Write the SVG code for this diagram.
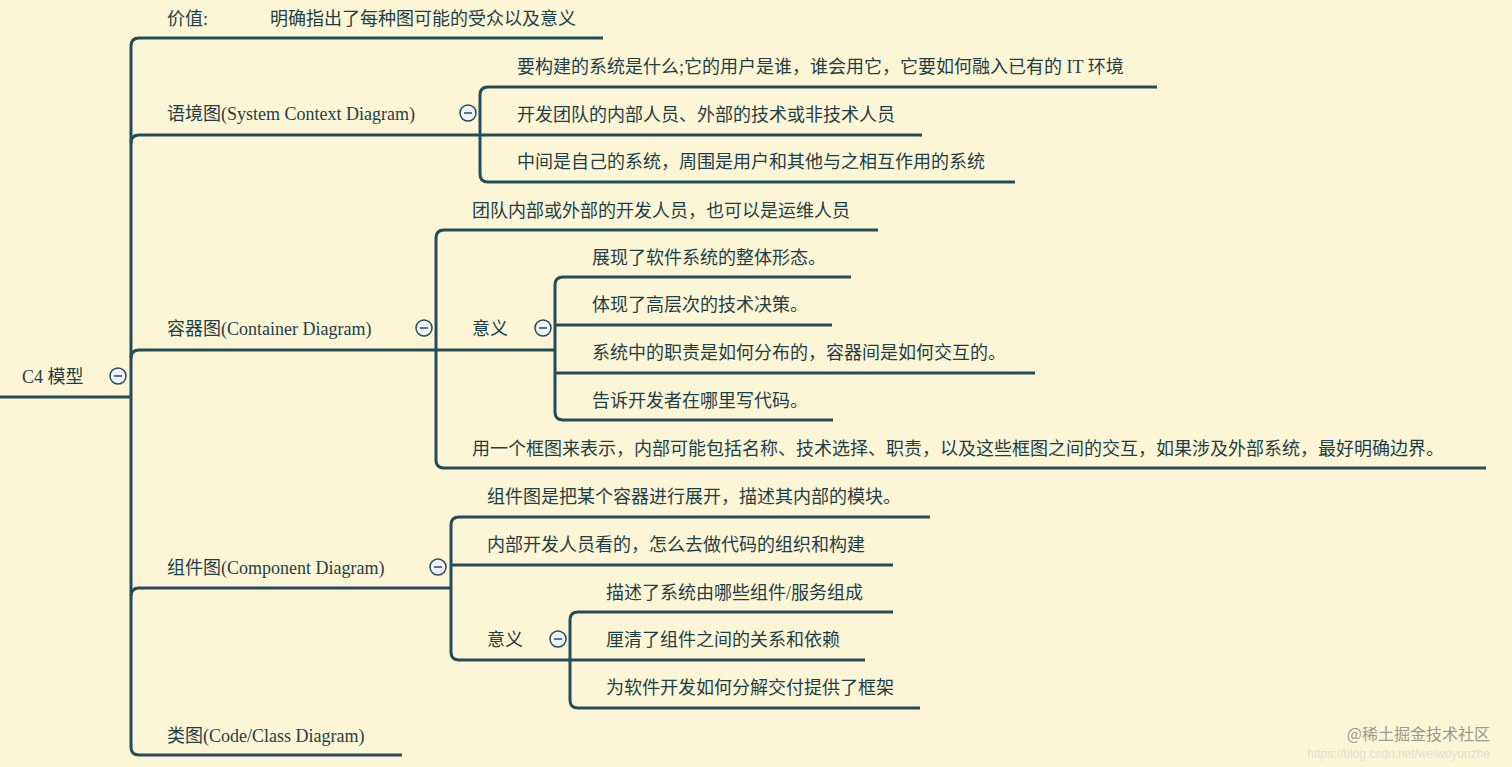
<svg xmlns="http://www.w3.org/2000/svg" width="1512" height="767" viewBox="0 0 1512 767">
<style>
.l{fill:none;stroke:#234e59;stroke-width:3;stroke-linejoin:round}
text{font-family:"Liberation Serif","Noto Sans CJK SC",serif;font-size:18px;fill:#1f3f47;dominant-baseline:central}
.c circle{fill:#eef2f6;stroke:#234e59;stroke-width:1.5}
.c line{stroke:#234e59;stroke-width:1.5}
</style>
<rect width="1512" height="767" fill="#fcf5d6"/>
<g id="connectors" class="l">
<path d="M0 397H131"/>
<path d="M603 38H139Q131 38 131 46V747Q131 755 139 755H402"/>
<path d="M131 143Q131 135 139 135H480"/>
<path d="M131 358Q131 350 139 350H436"/>
<path d="M131 596Q131 588 139 588H451"/>
<path d="M1157 87H488Q480 87 480 95V174Q480 182 488 182H1015"/>
<path d="M480 135H922"/>
<path d="M878 230H444Q436 230 436 238V460Q436 468 444 468H1486"/>
<path d="M436 350H555"/>
<path d="M851 277H563Q555 277 555 285V412Q555 420 563 420H833"/>
<path d="M555 325H832"/>
<path d="M555 373H1035"/>
<path d="M930 517H459Q451 517 451 525V652Q451 660 459 660H570"/>
<path d="M451 565H893"/>
<path d="M893 612H578Q570 612 570 620V700Q570 708 578 708H920"/>
<path d="M570 660H865"/>
</g>
<g class="c">
<g id="t0"><circle cx="118" cy="376" r="8"/><line x1="114" y1="376" x2="122" y2="376"/></g>
<g id="t1"><circle cx="468" cy="113" r="8"/><line x1="464" y1="113" x2="472" y2="113"/></g>
<g id="t2"><circle cx="424" cy="328" r="8"/><line x1="420" y1="328" x2="428" y2="328"/></g>
<g id="t3"><circle cx="543" cy="328" r="8"/><line x1="539" y1="328" x2="547" y2="328"/></g>
<g id="t4"><circle cx="438" cy="567" r="8"/><line x1="434" y1="567" x2="442" y2="567"/></g>
<g id="t5"><circle cx="558" cy="639" r="8"/><line x1="554" y1="639" x2="562" y2="639"/></g>
</g>
<g id="n-root"><text x="22" y="377">C4 模型</text></g>
<g id="n-value"><text x="167" y="19">价值:</text><text x="270" y="19">明确指出了每种图可能的受众以及意义</text></g>
<g id="n-context"><text x="167" y="114">语境图(System Context Diagram)</text></g>
<g id="n-c1"><text x="517" y="67">要构建的系统是什么;它的用户是谁，谁会用它，它要如何融入已有的 IT 环境</text></g>
<g id="n-c2"><text x="517" y="115">开发团队的内部人员、外部的技术或非技术人员</text></g>
<g id="n-c3"><text x="517" y="162">中间是自己的系统，周围是用户和其他与之相互作用的系统</text></g>
<g id="n-container"><text x="167" y="329">容器图(Container Diagram)</text></g>
<g id="n-k1"><text x="472" y="211">团队内部或外部的开发人员，也可以是运维人员</text></g>
<g id="n-k2"><text x="472" y="329">意义</text></g>
<g id="n-k21"><text x="592" y="258">展现了软件系统的整体形态。</text></g>
<g id="n-k22"><text x="592" y="305">体现了高层次的技术决策。</text></g>
<g id="n-k23"><text x="592" y="353">系统中的职责是如何分布的，容器间是如何交互的。</text></g>
<g id="n-k24"><text x="592" y="401">告诉开发者在哪里写代码。</text></g>
<g id="n-k3"><text x="472" y="449">用一个框图来表示，内部可能包括名称、技术选择、职责，以及这些框图之间的交互，如果涉及外部系统，最好明确边界。</text></g>
<g id="n-component"><text x="167" y="568">组件图(Component Diagram)</text></g>
<g id="n-m1"><text x="487" y="497">组件图是把某个容器进行展开，描述其内部的模块。</text></g>
<g id="n-m2"><text x="487" y="545">内部开发人员看的，怎么去做代码的组织和构建</text></g>
<g id="n-m3"><text x="487" y="640">意义</text></g>
<g id="n-m31"><text x="606" y="593">描述了系统由哪些组件/服务组成</text></g>
<g id="n-m32"><text x="606" y="640">厘清了组件之间的关系和依赖</text></g>
<g id="n-m33"><text x="606" y="688">为软件开发如何分解交付提供了框架</text></g>
<g id="n-class"><text x="167" y="736">类图(Code/Class Diagram)</text></g>
<text x="1490" y="733" text-anchor="end" style="font-family:'Noto Sans CJK SC',sans-serif;font-size:16px;fill:#9a9a8e">@稀土掘金技术社区</text>
<text x="1490" y="754" text-anchor="end" style="font-family:'Liberation Sans',sans-serif;font-size:12px;fill:#e4e0d0">https://blog.csdn.net/weiwoyonzhe</text>
</svg>
